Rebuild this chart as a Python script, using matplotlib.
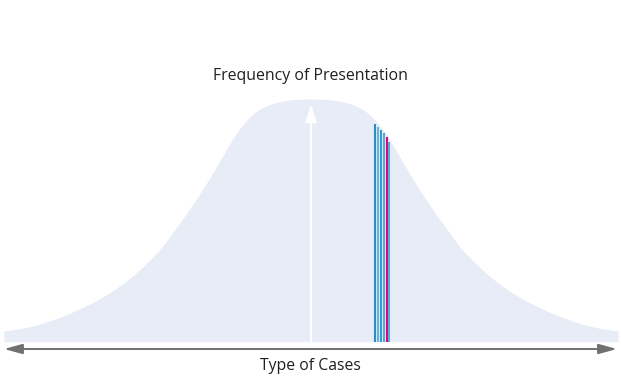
import numpy as np
import matplotlib
matplotlib.use("Agg")
import matplotlib.pyplot as plt

# ---- data ----
# bell curve: distance from the centre (type of case) and frequency height, one side
centre_x = 311
curve_d = [0, 25, 45, 60, 75, 90, 105, 120, 135, 150, 170, 190, 210, 235, 260, 285, 307]
curve_h = [243, 241.5, 236, 226, 208, 183, 158, 135, 114, 94, 73.5, 57, 44, 31.5, 21.5, 14.5, 11]

mode_h = 238          # centre arrow tip height

line_x = [374.8, 377.9, 380.9, 383.7, 386.5, 389.4]
line_h = [218, 215, 212, 209, 205, 200]
line_colors = ["#2a8dc8", "#62b6de", "#3f9ac4", "#49aee0", "#e4007c", "#4cb2e0"]

title_text = "Frequency of Presentation"
xlabel_text = "Type of Cases"

# ---- smooth rendering (Catmull-Rom through the read points) ----
def catmull_rom(xs, ys, n=20):
    P = np.column_stack([xs, ys]).astype(float)
    P = np.vstack([P[0] - (P[1] - P[0]), P, P[-1] + (P[-1] - P[-2])])
    out = []
    for i in range(1, len(P) - 2):
        p0, p1, p2, p3 = P[i - 1], P[i], P[i + 1], P[i + 2]
        t = np.linspace(0, 1, n, endpoint=False)[:, None]
        seg = 0.5 * ((2 * p1) + (-p0 + p2) * t + (2 * p0 - 5 * p1 + 4 * p2 - p3) * t ** 2
                     + (-p0 + 3 * p1 - 3 * p2 + p3) * t ** 3)
        out.append(seg)
    out.append(P[-2][None, :])
    S = np.vstack(out)
    return S[:, 0], S[:, 1]

d = np.array(curve_d, float)
h = np.array(curve_h, float)
full_x = np.concatenate([centre_x - d[::-1], centre_x + d[1:]])
full_h = np.concatenate([h[::-1], h[1:]])
sx, sh = catmull_rom(full_x, full_h)

fig = plt.figure(figsize=(6.21, 3.81), dpi=100)
ax = fig.add_axes([0, 0, 1, 1])
ax.set_xlim(0, 621)
ax.set_ylim(-39, 342)
ax.axis("off")

# bell curve
ax.fill_between(sx, 0.3, sh, color="#e8ecf7", linewidth=0, zorder=1)

# coloured case lines
for x, hh, c in zip(line_x, line_h, line_colors):
    ax.plot([x, x], [0.3, hh], color=c, linewidth=1.5, solid_capstyle="butt", zorder=3)

# white centre arrow
ax.annotate("", xy=(centre_x, mode_h), xytext=(centre_x, 0.3),
            arrowprops=dict(arrowstyle="-|>,head_length=1.1,head_width=0.35",
                            color="white", lw=1.4, shrinkA=0, shrinkB=0),
            zorder=4)

# bottom double arrow
ax.annotate("", xy=(4, -7), xytext=(617, -7),
            arrowprops=dict(arrowstyle="<|-|>,head_length=1.1,head_width=0.3",
                            color="#707070", lw=1.4, shrinkA=0, shrinkB=0),
            zorder=4)

ax.text(310, 266, title_text, ha="center", va="center", fontsize=11.4,
        family="Open Sans", color="#231f20")
ax.text(310, -24, xlabel_text, ha="center", va="center", fontsize=11.3,
        family="Open Sans", color="#231f20")

fig.savefig("out.png", dpi=100)
